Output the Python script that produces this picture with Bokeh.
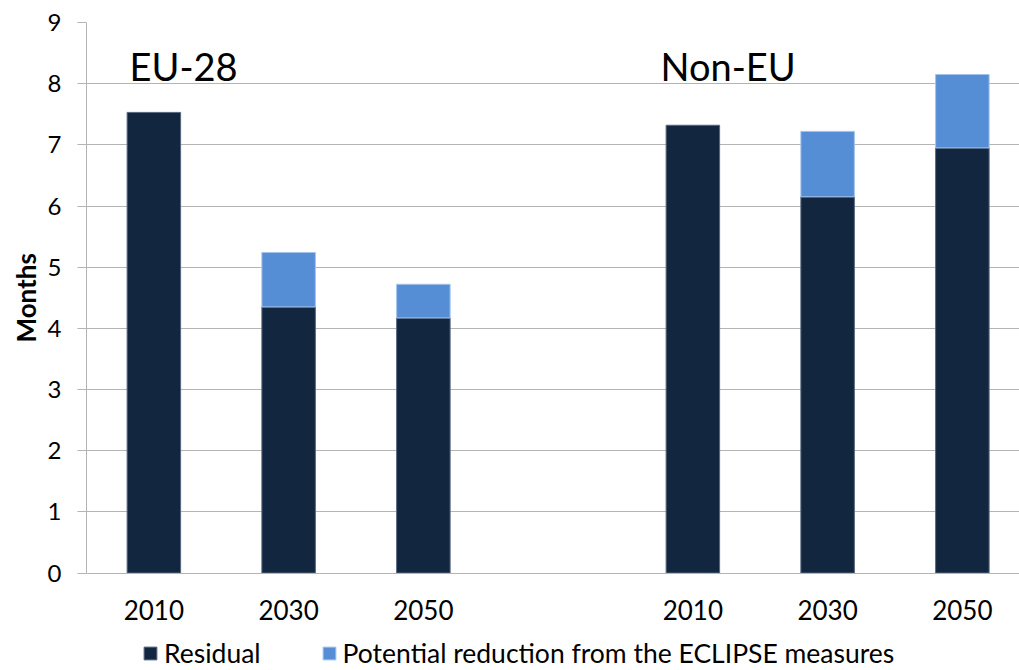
from bokeh.plotting import figure
from bokeh.models import ColumnDataSource, FixedTicker, Legend, LegendItem, Range1d, Title
from bokeh.core.properties import value
from bokeh.embed import file_html
from bokeh.resources import INLINE

# Months of life lost, by region and year
groups = ["EU-28", "Non-EU"]
years = ["2010", "2030", "2050", "2010", "2030", "2050"]
slots = [0, 1, 2, 4, 5, 6]          # one empty slot between the two regions
residual = [7.53, 4.35, 4.17, 7.32, 6.15, 6.95]
reduction = [0.0, 0.89, 0.55, 0.0, 1.07, 1.20]
y_ticks = [0, 1, 2, 3, 4, 5, 6, 7, 8, 9]

DARK = "#12263f"
LIGHT = "#558ed5"
GRID = "#b4b4b4"
FONT = "Lato"

# the frame runs to the bottom of the canvas so the legend can sit under the axis
p = figure(width=1019, height=670, output_backend="svg", toolbar_location=None,
           x_range=Range1d(-0.5, 6.424), y_range=Range1d(-1.594, 9),
           min_border_left=86, min_border_right=0, min_border_top=22,
           min_border_bottom=0)
p.outline_line_color = None
p.background_fill_color = "white"

res_src = ColumnDataSource(dict(x=slots, top=residual))
red_rows = [i for i, r in enumerate(reduction) if r > 0]
red_src = ColumnDataSource(dict(
    x=[slots[i] for i in red_rows],
    bottom=[residual[i] for i in red_rows],
    top=[residual[i] + reduction[i] for i in red_rows],
))

r_res = p.vbar(x="x", top="top", bottom=0, width=0.397, source=res_src,
               fill_color=DARK, line_color="#56677e", line_width=1)
r_red = p.vbar(x="x", top="top", bottom="bottom", width=0.397, source=red_src,
               fill_color=LIGHT, line_color="#a3c3ec", line_width=1)

# region labels inside the plot
p.text(x=[-0.181, 3.76], y=[8.285, 8.285], text=groups,
       text_font=value(FONT), text_font_size="38px", text_color="black",
       text_baseline="alphabetic", text_align="left")

# axes
p.xaxis.fixed_location = 0
p.xaxis.ticker = FixedTicker(ticks=slots)
p.xaxis.major_label_overrides = {s: y for s, y in zip(slots, years)}
p.xaxis.major_label_text_font = FONT
p.xaxis.major_label_text_font_size = "26px"
p.xaxis.major_label_text_color = "black"
p.xaxis.major_label_standoff = 21
p.xaxis.major_tick_line_color = None
p.xaxis.minor_tick_line_color = None
p.xaxis.axis_line_color = GRID

p.yaxis.bounds = (0, 9)
p.yaxis.ticker = FixedTicker(ticks=y_ticks)
p.yaxis.major_label_text_font = FONT
p.yaxis.major_label_text_font_size = "24px"
p.yaxis.major_label_text_color = "black"
p.yaxis.major_label_standoff = 16
p.yaxis.major_tick_out = 9
p.yaxis.major_tick_in = 0
p.yaxis.major_tick_line_color = GRID
p.yaxis.minor_tick_line_color = None
p.yaxis.axis_line_color = GRID

# y-axis title, placed along the 0-9 span rather than the whole frame
ytitle = Title(text="Months", align="left", offset=328, standoff=6,
               text_font=FONT, text_font_size="26px", text_font_style="bold",
               text_color="black")
p.add_layout(ytitle, "left")

p.xgrid.grid_line_color = None
p.ygrid.grid_line_color = GRID
p.ygrid.grid_line_width = 1.2

legend = Legend(items=[
    LegendItem(label="Residual", renderers=[r_res]),
    LegendItem(label="Potential reduction from the ECLIPSE measures", renderers=[r_red]),
], orientation="horizontal", location=(56, 1))
legend.glyph_width = 16
legend.glyph_height = 16
legend.label_standoff = 6
legend.spacing = 60
legend.padding = 0
legend.margin = 0
legend.border_line_color = None
legend.background_fill_alpha = 0
legend.label_text_font = FONT
legend.label_text_font_size = "26.5px"
legend.label_text_color = "black"
legend.label_height = 16
p.add_layout(legend, "center")

open("out.html", "w").write(file_html(p, INLINE))
